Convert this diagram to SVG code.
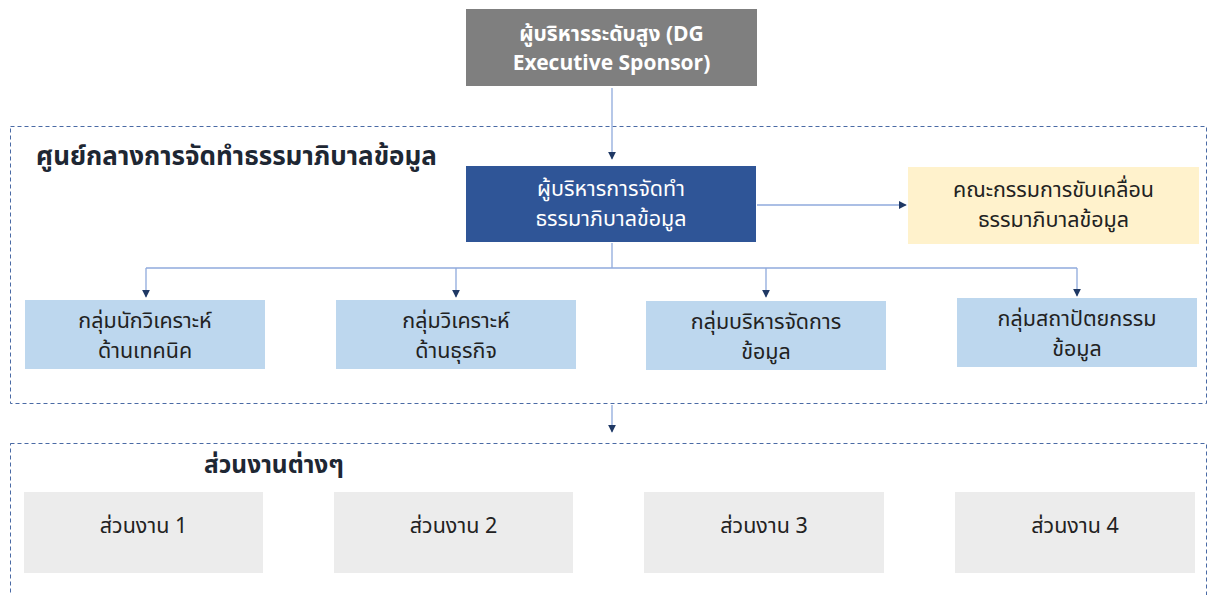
<svg xmlns="http://www.w3.org/2000/svg" width="1213" height="595" viewBox="0 0 1213 595">
  <style>
    text { font-family: "Noto Sans Thai", "Noto Sans", "Liberation Sans", sans-serif; text-anchor: middle; }
    .exec { fill: #7f7f7f; }
    .lead { fill: #2f5597; }
    .cmte { fill: #fff2cc; }
    .team { fill: #bdd7ee; }
    .unit { fill: #ececec; }
    .frame { fill: none; stroke: #4a6aa5; stroke-width: 1; stroke-dasharray: 4 3; }
    .wt { fill: #ffffff; font-size: 21.5px; }
    .bd { font-weight: bold; font-size: 21px; }
    .dk { fill: #222222; font-size: 21.5px; }
    .hd { fill: #1e2733; font-weight: bold; text-anchor: start; }
    .conn { fill: none; stroke: #8faadc; stroke-width: 1.3; }
  </style>
  <defs>
    <marker id="arr" viewBox="0 0 10 10" refX="9" refY="5" markerWidth="8" markerHeight="8" markerUnits="userSpaceOnUse" orient="auto">
      <path d="M0,0 L10,5 L0,10 z" fill="#1f3864"/>
    </marker>
  </defs>

  <rect width="1213" height="595" fill="#ffffff"/>

  <!-- dashed group frames -->
  <rect class="frame" x="10.5" y="126.5" width="1196" height="277"/>
  <rect class="frame" x="10.5" y="443.5" width="1196" height="170"/>
  <text class="hd" x="36" y="165" font-size="26">ศูนย์กลางการจัดทำธรรมาภิบาลข้อมูล</text>
  <text class="hd" x="204" y="473" font-size="24.5">ส่วนงานต่างๆ</text>

  <!-- connectors -->
  <g id="connectors">
    <path class="conn" d="M612,88 V159" marker-end="url(#arr)"/>
    <path class="conn" d="M757,205 H906" marker-end="url(#arr)"/>
    <path class="conn" d="M612,243 V268"/>
    <path class="conn" d="M146,268 H1077"/>
    <path class="conn" d="M146,268 V297" marker-end="url(#arr)"/>
    <path class="conn" d="M456,268 V297" marker-end="url(#arr)"/>
    <path class="conn" d="M766,268 V297" marker-end="url(#arr)"/>
    <path class="conn" d="M1077,268 V296" marker-end="url(#arr)"/>
    <path class="conn" d="M612,405 V432" marker-end="url(#arr)"/>
  </g>

  <g id="sponsor">
    <rect class="exec" x="466" y="9" width="291" height="77"/>
    <text class="wt bd"><tspan x="611.5" y="40.5">ผู้บริหารระดับสูง (DG</tspan><tspan x="611.5" y="70">Executive Sponsor)</tspan></text>
  </g>

  <g id="governance-lead">
    <rect class="lead" x="466" y="166" width="290" height="76"/>
    <text class="wt"><tspan x="611" y="196">ผู้บริหารการจัดทำ</tspan><tspan x="611" y="226">ธรรมาภิบาลข้อมูล</tspan></text>
  </g>

  <g id="steering-committee">
    <rect class="cmte" x="908" y="167" width="291" height="77"/>
    <text class="dk"><tspan x="1053.5" y="197">คณะกรรมการขับเคลื่อน</tspan><tspan x="1053.5" y="227">ธรรมาภิบาลข้อมูล</tspan></text>
  </g>

  <g id="team-tech">
    <rect class="team" x="25" y="300" width="240" height="69"/>
    <text class="dk"><tspan x="145" y="328">กลุ่มนักวิเคราะห์</tspan><tspan x="145" y="358">ด้านเทคนิค</tspan></text>
  </g>
  <g id="team-business">
    <rect class="team" x="336" y="300" width="240" height="69"/>
    <text class="dk"><tspan x="456" y="328">กลุ่มวิเคราะห์</tspan><tspan x="456" y="358">ด้านธุรกิจ</tspan></text>
  </g>
  <g id="team-management">
    <rect class="team" x="646" y="301" width="240" height="69"/>
    <text class="dk"><tspan x="766" y="329">กลุ่มบริหารจัดการ</tspan><tspan x="766" y="359">ข้อมูล</tspan></text>
  </g>
  <g id="team-architecture">
    <rect class="team" x="957" y="298" width="240" height="69"/>
    <text class="dk"><tspan x="1077" y="326">กลุ่มสถาปัตยกรรม</tspan><tspan x="1077" y="356">ข้อมูล</tspan></text>
  </g>

  <g id="unit-1">
    <rect class="unit" x="24" y="492" width="239" height="81"/>
    <text class="dk" x="143.5" y="533">ส่วนงาน 1</text>
  </g>
  <g id="unit-2">
    <rect class="unit" x="334" y="492" width="239" height="81"/>
    <text class="dk" x="453.5" y="533">ส่วนงาน 2</text>
  </g>
  <g id="unit-3">
    <rect class="unit" x="644" y="492" width="240" height="81"/>
    <text class="dk" x="764" y="533">ส่วนงาน 3</text>
  </g>
  <g id="unit-4">
    <rect class="unit" x="955" y="492" width="240" height="81"/>
    <text class="dk" x="1075" y="533">ส่วนงาน 4</text>
  </g>
</svg>
